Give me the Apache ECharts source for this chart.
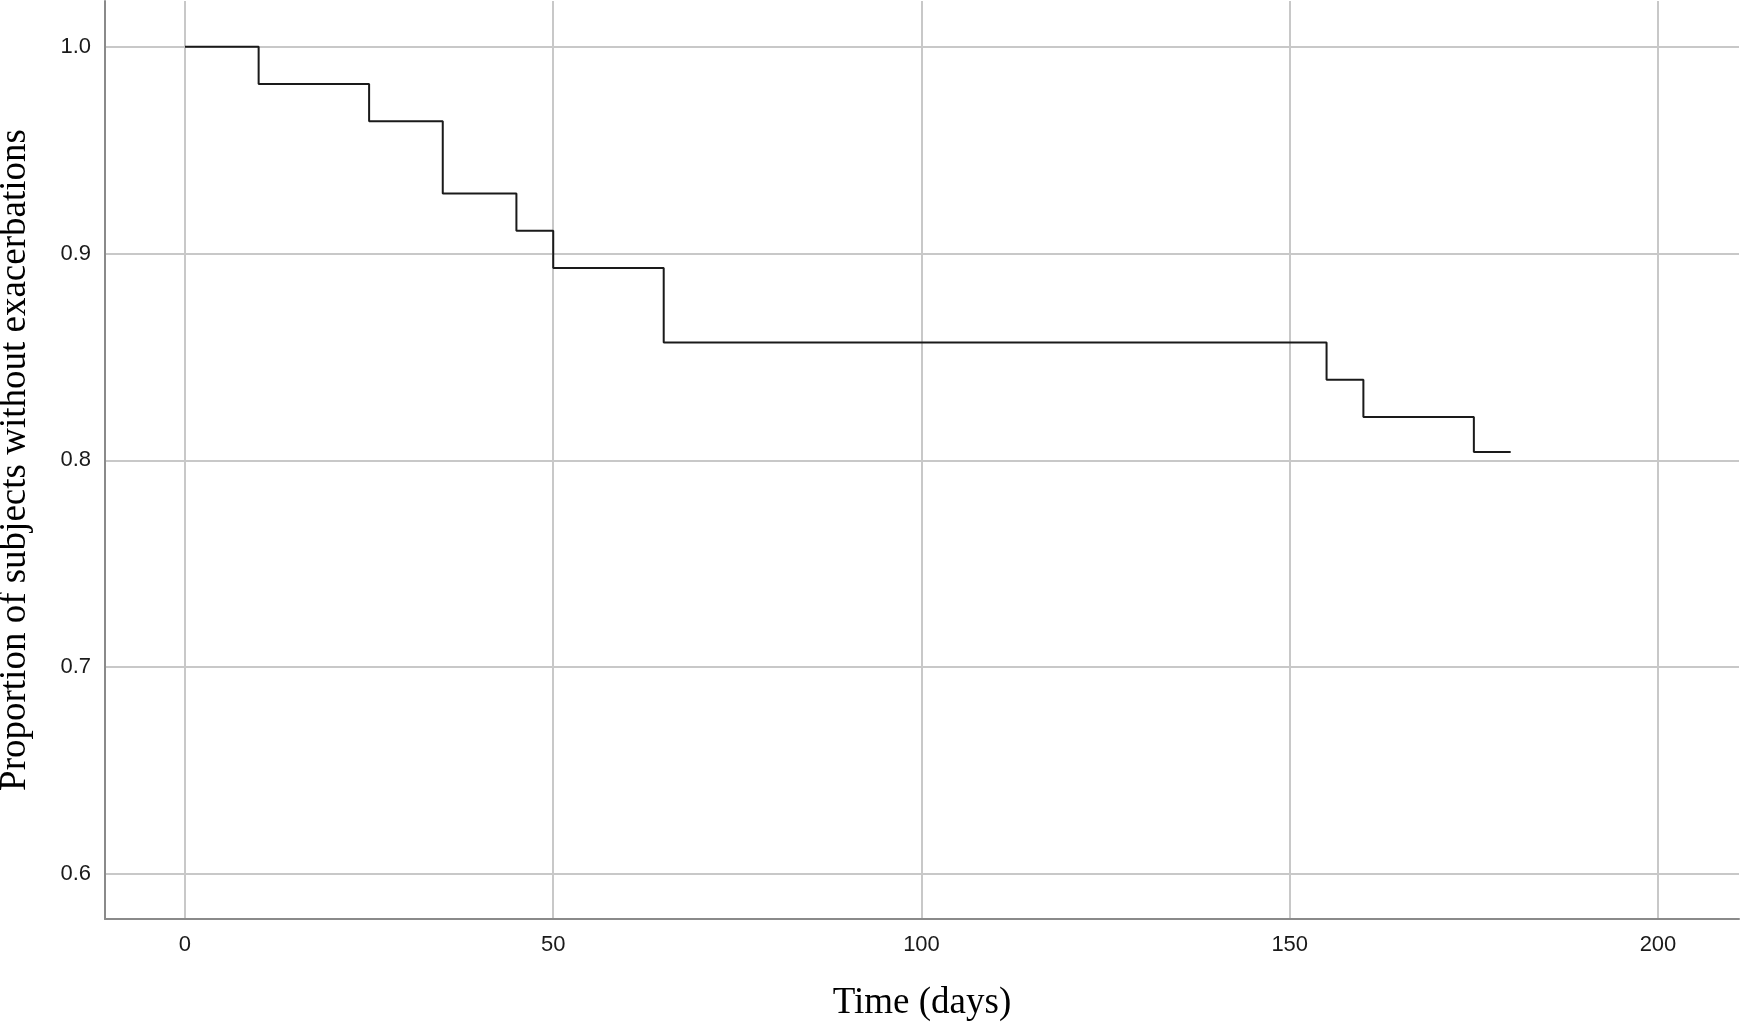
<!DOCTYPE html>
<html>
<head>
<meta charset="utf-8">
<script src="https://cdn.jsdelivr.net/npm/echarts@6/dist/echarts.min.js"></script>
<style>
html,body{margin:0;padding:0;background:#fff;}
#chart{width:1742px;height:1023px;}
</style>
</head>
<body>
<div id="chart"></div>
<script>
// Kaplan-Meier step data
const timeDays = [0, 10, 25, 35, 45, 50, 65, 155, 160, 175, 180];
const proportion = [1.0, 0.982, 0.964, 0.929, 0.911, 0.893, 0.857, 0.839, 0.821, 0.804, 0.804];
const xTitle = 'Time (days)';
const yTitle = 'Proportion of subjects without exacerbations';

const seriesData = timeDays.map((t, i) => [t, proportion[i]]);

const chart = echarts.init(document.getElementById('chart'), null, {renderer: 'canvas'});
chart.setOption({
  animation: false,
  backgroundColor: '#ffffff',
  grid: {left: 105, right: 3, top: 1, bottom: 104, containLabel: false, outerBoundsMode: 'none'},
  xAxis: {
    type: 'value',
    min: -10.86,
    max: 211,
    name: xTitle,
    nameLocation: 'middle',
    nameGap: 66,
    nameTextStyle: {fontFamily: 'Liberation Serif', fontSize: 37, color: '#000'},
    axisLine: {show: true, onZero: false, lineStyle: {color: '#8a8a8a', width: 2}},
    axisTick: {show: false},
    axisLabel: {fontFamily: 'Liberation Sans', fontSize: 22, color: '#1a1a1a', margin: 15, showMinLabel: false, showMaxLabel: false},
    splitLine: {show: true, showMinLine: false, showMaxLine: false, lineStyle: {color: '#c8c8c8', width: 2}}
  },
  yAxis: {
    type: 'value',
    min: 0.5782,
    max: 1.0221,
    name: yTitle,
    nameLocation: 'middle',
    nameGap: 71,
    nameTextStyle: {fontFamily: 'Liberation Serif', fontSize: 37, color: '#000'},
    axisLine: {show: true, onZero: false, lineStyle: {color: '#8a8a8a', width: 2}},
    axisTick: {show: false},
    axisLabel: {fontFamily: 'Liberation Sans', fontSize: 22, color: '#1a1a1a', margin: 14, showMinLabel: false, showMaxLabel: false,
      formatter: v => v.toFixed(1)},
    splitLine: {show: true, showMinLine: false, showMaxLine: false, lineStyle: {color: '#c8c8c8', width: 2}}
  },
  series: [{
    type: 'line',
    step: 'end',
    data: seriesData,
    showSymbol: false,
    symbol: 'none',
    lineStyle: {color: '#1a1a1a', width: 2},
    silent: true
  }]
});
</script>
</body>
</html>
